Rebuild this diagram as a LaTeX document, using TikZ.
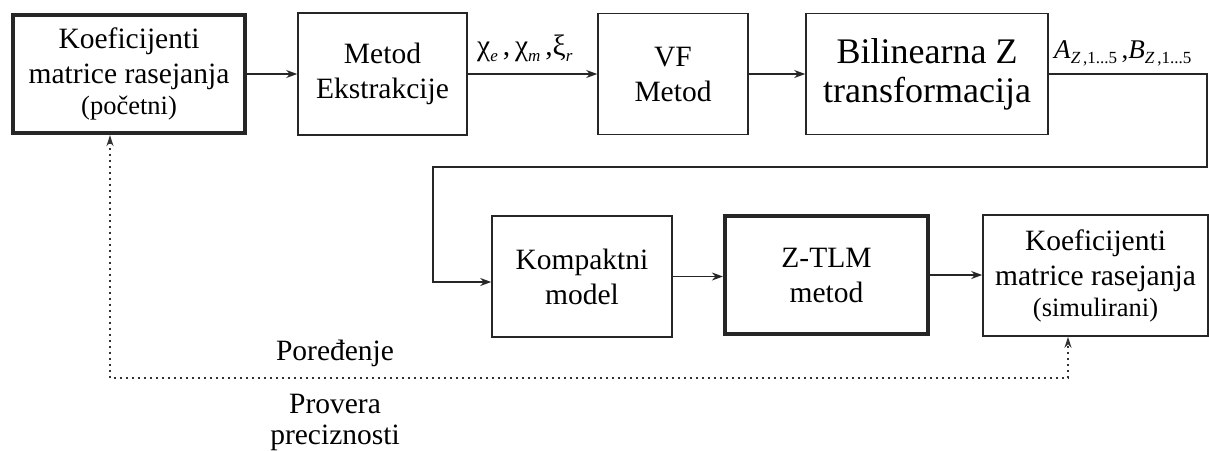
\documentclass[tikz,border=0pt]{standalone}
\usepackage{fontspec}
\setmainfont{Liberation Serif}
\usetikzlibrary{arrows.meta,calc}
\newcommand{\lowsub}[1]{\raisebox{-0.22em}{\fontsize{17}{17}\selectfont #1}}
\begin{document}
\begin{tikzpicture}[x=1pt,y=-1pt,
  box/.style={draw=black!85,line width=1.6pt,rectangle,align=center,inner sep=0pt,
    font=\fontsize{29.5}{35}\selectfont},
  thickbox/.style={box,line width=4.2pt},
  conn/.style={draw=black!85,line width=1.6pt,-{Stealth[length=11pt,width=8pt]}},
  fb/.style={draw=black!80,line width=1.6pt,dash pattern=on 1.8pt off 4.2pt,
    {Stealth[length=11pt,width=7pt]}-{Stealth[length=11pt,width=7pt]}},
  lbl/.style={inner sep=0pt,font=\fontsize{29.5}{32}\selectfont}]
\useasboundingbox (0,0) rectangle (1209,450);

\node[thickbox,minimum width=232pt,minimum height=118pt] (b1) at (129,74)
  {Koeficijenti\\matrice rasejanja\\[-4pt]{\fontsize{26.5}{26}\selectfont(početni)}};
\node[box,minimum width=169pt,minimum height=122pt] (b2) at (382.5,74) {Metod\\Ekstrakcije};
\node[box,minimum width=150pt,minimum height=121pt] (b3) at (673,74) {VF\\Metod};
\node[box,minimum width=242pt,minimum height=121pt,font=\fontsize{36}{39}\selectfont] (b4) at (927,74)
  {Bilinearna Z\\transformacija};
\node[box,minimum width=180pt,minimum height=121pt] (komp) at (582,276.5) {Kompaktni\\model};
\node[thickbox,minimum width=203pt,minimum height=118pt] (ztlm) at (826.5,275) {Z-TLM\\metod};
\node[box,minimum width=225pt,minimum height=121pt] (ks) at (1095.5,275.5)
  {Koeficijenti\\matrice rasejanja\\[-4pt]{\fontsize{26.5}{26}\selectfont(simulirani)}};

\node[lbl,anchor=base west] (chi) at (477,55)
  {χ\lowsub{\textit{e}}\,,\,χ\lowsub{\textit{m}}\,,ξ\lowsub{\textit{r}}};
\node[lbl,anchor=base west,font=\fontsize{27}{30}\selectfont] (ab) at (1054,58)
  {\textit{A}\lowsub{\textit{Z}\,,1...5}\,,\textit{B}\lowsub{\textit{Z}\,,1...5}};

\path[conn] (b1.east) -- (b2.west);
\path[conn] (b2.east) -- (b3.west);
\path[conn] (b3.east) -- (b4.west);
\coordinate (c1) at (1207,74);
\coordinate (c2) at (1207,167);
\coordinate (c3) at (433,167);
\coordinate (c4) at (433,282);
\path[conn] (b4.east) -- (c1) -- (c2) -- (c3) -- (c4) -- (c4 -| komp.west);
\path[conn] (komp.east) -- (komp.east -| ztlm.west);
\path[conn] (ztlm.east) -- (ztlm.east -| ks.west);

\coordinate (d1) at (110,378);
\coordinate (d2) at (1068,378);
\path[fb] (d1 |- b1.south) -- (d1) -- (d2) -- (d2 |- ks.south);

\node[lbl,anchor=base] (por) at (335,360) {Poređenje};
\node[lbl,anchor=base] (prov) at (335,413) {Provera};
\node[lbl,anchor=base] (prec) at (335,444) {preciznosti};
\end{tikzpicture}
\end{document}
